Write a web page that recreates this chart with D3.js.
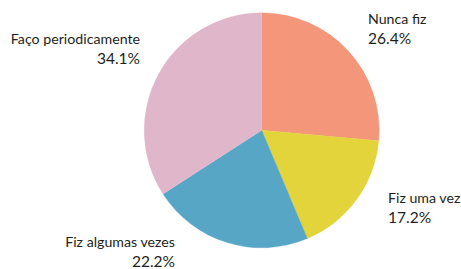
<!DOCTYPE html>
<html>
<head>
<meta charset="utf-8">
<script src="https://cdn.jsdelivr.net/npm/d3@7"></script>
<style>
  html, body { margin: 0; padding: 0; background: #fff; }
  svg { display: block; }
  text { font-family: Lato, "Open Sans", sans-serif; fill: #231f20; }
</style>
</head>
<body>
<div id="chart"></div>
<script>
// pie of "how often" answers, clockwise from 12 o'clock
const categories = ['Nunca fiz', 'Fiz uma vez', 'Fiz algumas vezes', 'Faço periodicamente'];
const values = [26.4, 17.2, 22.2, 34.1];
const colors = ['#f4967a', '#e2d43a', '#58a6c6', '#e0b7ca'];

// label placement (anchor + position of first line baseline)
const labelPos = [
  {x: 368, y: 24, anchor: 'start'},
  {x: 388, y: 203, anchor: 'start'},
  {x: 175, y: 247, anchor: 'end'},
  {x: 140, y: 44, anchor: 'end'}
];

const width = 461, height = 269;
const cx = 261.7, cy = 130.3, radius = 117.5;

const svg = d3.select('#chart').append('svg')
  .attr('width', width)
  .attr('height', height);

const data = categories.map((c, i) => ({name: c, value: values[i], color: colors[i]}));

const pie = d3.pie().sort(null).value(d => d.value);
const arc = d3.arc().innerRadius(0).outerRadius(radius);

const g = svg.append('g').attr('transform', `translate(${cx},${cy})`);
g.selectAll('path.slice')
  .data(pie(data))
  .join('path')
  .attr('class', 'slice')
  .attr('d', arc)
  .attr('fill', d => d.data.color)
  .attr('stroke', d => d.data.color)
  .attr('stroke-width', 0.3);

const labels = svg.selectAll('text.lbl')
  .data(data)
  .join('text')
  .attr('class', 'lbl')
  .attr('text-anchor', (d, i) => labelPos[i].anchor)
  .style('font-size', '14.2px');

labels.append('tspan')
  .attr('x', (d, i) => labelPos[i].x)
  .attr('y', (d, i) => labelPos[i].y)
  .text(d => d.name);
labels.append('tspan')
  .attr('x', (d, i) => labelPos[i].x)
  .attr('y', (d, i) => labelPos[i].y + 19.5)
  .style('font-size', '15.5px')
  .text(d => d.value.toFixed(1) + '%');
</script>
</body>
</html>
